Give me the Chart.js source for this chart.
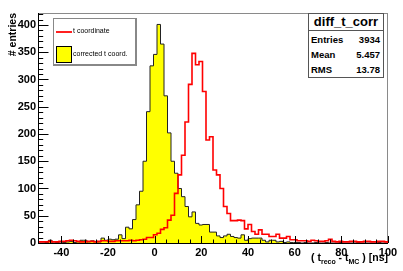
<!DOCTYPE html>
<html>
<head>
<meta charset="utf-8">
<script src="https://cdn.jsdelivr.net/npm/chart.js@4.4.0/dist/chart.umd.min.js"></script>
<style>
  html, body { margin: 0; padding: 0; background: #fff; }
  #wrap { position: relative; width: 403px; height: 271px; font-family: 'Liberation Sans', Arial, Helvetica, sans-serif; }
  #c { position: absolute; left: 0; top: 0; }
  .ytitle { position: absolute; left: 7px; top: 73px; width: 60px; line-height: 11px; text-align: right;
            transform-origin: 0 0; transform: rotate(-90deg); font-weight: bold; font-size: 10.5px; white-space: nowrap; }
  .xtitle { position: absolute; right: 15px; top: 251px; font-weight: bold; font-size: 10.5px; white-space: nowrap; line-height: 12px; }
  .xtitle sub { font-size: 7px; vertical-align: -3px; line-height: 0; }
  .legend { position: absolute; left: 53px; top: 18px; width: 84px; height: 48px; box-sizing: border-box;
            border: 1px solid #888; border-right-width: 2px; border-bottom-width: 2px; background: #fff; }
  .legend .line { position: absolute; left: 2px; top: 12px; width: 16px; height: 2px; background: #ff2020; }
  .legend .box { position: absolute; left: 2px; top: 27px; width: 14px; height: 15px; background: #ff0; border: 1px solid #000; }
  .legend .txt { position: absolute; left: 19px; font-size: 7px; line-height: 8px; white-space: nowrap; }
  .stats { position: absolute; left: 308px; top: 13px; width: 76px; height: 65px; box-sizing: border-box;
           border: 1px solid #555; background: #fff; font-weight: bold; }
  .stats .title { position: absolute; left: 0; right: 0; top: 0; height: 16px; border-bottom: 1px solid #555;
                  text-align: center; font-size: 13px; line-height: 15px; }
  .stats .row { position: absolute; left: 2px; right: 3px; font-size: 9.5px; line-height: 10px; }
  .stats .row span { position: absolute; right: 0; }
</style>
</head>
<body>
<div id="wrap">
  <canvas id="c" width="403" height="271"></canvas>
  <div class="ytitle"># entries</div>
  <div class="xtitle">( t<sub>reco</sub> - t<sub>MC</sub> ) [ns]</div>
  <div class="legend">
    <div class="line"></div>
    <div class="txt" style="top:8px">t coordinate</div>
    <div class="box"></div>
    <div class="txt" style="top:31px">corrected t coord.</div>
  </div>
  <div class="stats">
    <div class="title">diff_t_corr</div>
    <div class="row" style="top:21px">Entries<span>3934</span></div>
    <div class="row" style="top:36px">Mean<span>5.457</span></div>
    <div class="row" style="top:51px">RMS<span>13.78</span></div>
  </div>
</div>
<script>
// histogram binning: 100 bins from -50 to 100
const xLow = -50;
const xHigh = 100;
const binWidth = 1.5;
const yMax = 422;

// corrected t coord. (yellow, filled)
const correctedCounts = [
  0, 0, 1, 5, 0, 1, 0, 1, 2, 3,
  1, 2, 5, 5, 2, 4, 3, 2, 9, 5,
  7, 6, 7, 15, 8, 29, 26, 43, 70, 95,
  150, 241, 325, 346, 401, 365, 270, 202, 150, 128,
  100, 85, 67, 48, 57, 36, 33, 34, 34, 20,
  20, 13, 10, 13, 16, 12, 10, 9, 15, 5,
  8, 9, 9, 9, 5, 2, 5, 5, 2, 3,
  1, 2, 1, 1, 1, 0, 1, 0, 0, 1,
  0, 0, 1, 0, 0, 0, 1, 0, 0, 0,
  0, 1, 0, 0, 0, 0, 0, 1, 0, 0
];

// t coordinate (red outline)
const tCoordCounts = [
  2, 2, 2, 3, 2, 2, 3, 3, 4, 5,
  4, 3, 2, 2, 3, 3, 2, 3, 4, 4,
  3, 3, 4, 4, 4, 4, 5, 4, 5, 6,
  7, 10, 10, 15, 18, 25, 28, 42, 51, 91,
  125, 161, 222, 291, 348, 327, 333, 278, 189, 195,
  134, 125, 100, 67, 54, 41, 41, 42, 41, 26,
  34, 21, 16, 24, 16, 16, 12, 12, 16, 9,
  9, 12, 6, 6, 4, 4, 4, 3, 5, 4,
  3, 3, 4, 7, 3, 2, 3, 2, 2, 3,
  3, 2, 2, 3, 3, 2, 2, 3, 3, 2
];

const xTickLabels = ['-40', '-20', '0', '20', '40', '60', '80', '100'];

// turn bin contents into step outline points (left edges + closing edge)
function histPoints(counts) {
  const pts = [{ x: xLow, y: 0 }];
  counts.forEach((c, i) => pts.push({ x: xLow + i * binWidth, y: c }));
  pts.push({ x: xLow + counts.length * binWidth, y: counts[counts.length - 1] });
  pts.push({ x: xLow + counts.length * binWidth, y: 0 });
  return pts;
}

// ROOT style frame + inward ticks
const rootAxes = {
  id: 'rootAxes',
  beforeDatasetsDraw(chart) {
    const { ctx, chartArea: a } = chart;
    ctx.save();
    ctx.strokeStyle = '#8a8a8a';
    ctx.lineWidth = 1;
    ctx.strokeRect(a.left + 0.5, a.top + 0.5, a.right - a.left - 1, a.bottom - a.top);
    ctx.restore();
  },
  afterDatasetsDraw(chart) {
    const { ctx, chartArea: a, scales: { x, y } } = chart;
    ctx.save();
    ctx.strokeStyle = '#000';
    ctx.lineWidth = 1;
    ctx.beginPath();
    ctx.moveTo(a.left + 0.5, a.top);
    ctx.lineTo(a.left + 0.5, a.bottom + 0.5);
    ctx.lineTo(a.right, a.bottom + 0.5);
    for (let v = 0; v <= yMax; v += 10) {
      const py = Math.round(y.getPixelForValue(v)) + 0.5;
      const len = v % 50 === 0 ? 10.5 : 5.2;
      ctx.moveTo(a.left, py);
      ctx.lineTo(a.left + len, py);
    }
    for (let v = xLow; v <= xHigh; v += 5) {
      const px = Math.round(x.getPixelForValue(v)) + 0.5;
      const len = v % 20 === 0 ? 7 : 3.5;
      ctx.moveTo(px, a.bottom);
      ctx.lineTo(px, a.bottom - len);
    }
    ctx.stroke();
    ctx.restore();
  }
};

const tickFont = { family: "'Liberation Sans', Arial, Helvetica, sans-serif", weight: 'bold', size: 11 };

new Chart(document.getElementById('c'), {
  type: 'line',
  data: {
    datasets: [
      {
        label: 't coordinate',
        data: histPoints(tCoordCounts),
        stepped: 'before',
        borderColor: '#ff0000',
        borderWidth: 1.6,
        pointRadius: 0,
        fill: false,
        order: 0
      },
      {
        label: 'corrected t coord.',
        data: histPoints(correctedCounts),
        stepped: 'before',
        borderColor: '#222222',
        borderWidth: 1,
        backgroundColor: '#ffff00',
        pointRadius: 0,
        fill: 'origin',
        order: 1
      }
    ]
  },
  options: {
    responsive: false,
    animation: false,
    devicePixelRatio: 1,
    layout: { padding: { left: 0, right: 15, top: 13, bottom: 0 } },
    plugins: { legend: { display: false }, tooltip: { enabled: false } },
    scales: {
      x: {
        type: 'linear',
        min: xLow,
        max: xHigh,
        border: { display: false },
        grid: { display: false, drawTicks: false },
        ticks: {
          stepSize: 20,
          includeBounds: false,
          autoSkip: false,
          maxRotation: 0,
          padding: 3,
          color: '#000',
          font: tickFont,
          callback: (v) => xTickLabels.includes(String(v)) ? String(v) : ''
        },
        afterFit: (s) => { s.height = 28; }
      },
      y: {
        min: 0,
        max: yMax,
        border: { display: false },
        grid: { display: false, drawTicks: false },
        ticks: {
          stepSize: 50,
          includeBounds: false,
          autoSkip: false,
          padding: 2,
          color: '#000',
          font: tickFont
        },
        afterFit: (s) => { s.width = 38; }
      }
    }
  },
  plugins: [rootAxes]
});
</script>
</body>
</html>
